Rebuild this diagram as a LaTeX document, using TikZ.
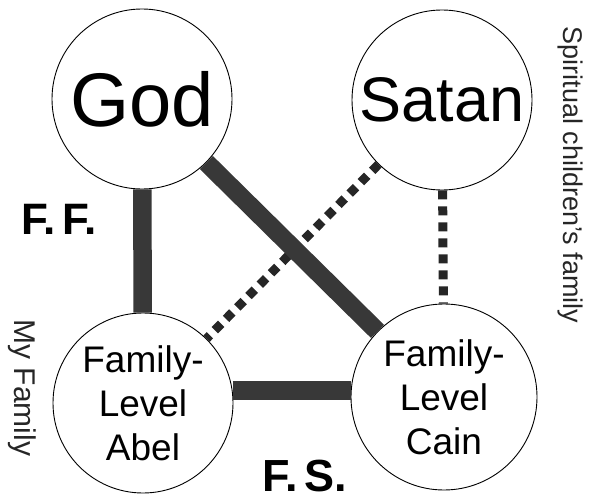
\documentclass[tikz,border=0pt]{standalone}
\usepackage{fontspec}
\setmainfont{Liberation Sans}
\usepackage{tikz}
\usetikzlibrary{positioning}

\begin{document}
\begin{tikzpicture}[x=1pt, y=-1pt,
    person/.style={circle, draw, line width=0.9pt, fill=white, minimum size=180pt, inner sep=0pt, align=center},
    family/.style={person, font=\fontsize{37}{44}\selectfont},
    bar/.style={line width=18.5pt, black!78},
    dots/.style={line width=9pt, dash pattern=on 9pt off 7pt, black!85},
    side/.style={rotate=-90, text=black!85}]
            \useasboundingbox (0,0) rectangle (591,500);

            % the four circles
            \node [person, font=\fontsize{76}{80}\selectfont] (God) at (142,99) {God};
            \node [person, font=\fontsize{63}{70}\selectfont] (Satan) at (442,100) {Satan};

            \node [family] (Abel) at (143,403) {Family-\\Level\\Abel};
            \node [family, minimum size=186pt] (Cain) at (444,397) {Family-\\Level\\Cain};

            % dotted ones under the bars
            \draw [dots] (Satan) -- (Abel);
            \draw [dots] (Satan) -- (Cain);

            \draw [bar] (God) -- (Abel);
            \draw [bar] (God) -- (Cain);
            \draw [bar] (Abel.8) -- (Abel.8 -| Cain.west);

            % labels
            \node (ff) at (59,219) {\fontsize{44}{48}\selectfont\bfseries F.\,F.};
            \node (fs) at (305,476) {\fontsize{45}{48}\selectfont\bfseries F.\,S.};

            \node [side, font=\fontsize{30}{34}\selectfont] (mine) at (22,388) {My Family};
            \node [side, font=\fontsize{27}{30}\selectfont] (spirit) at (570,175) {Spiritual children’s family};
        \end{tikzpicture}
\end{document}
